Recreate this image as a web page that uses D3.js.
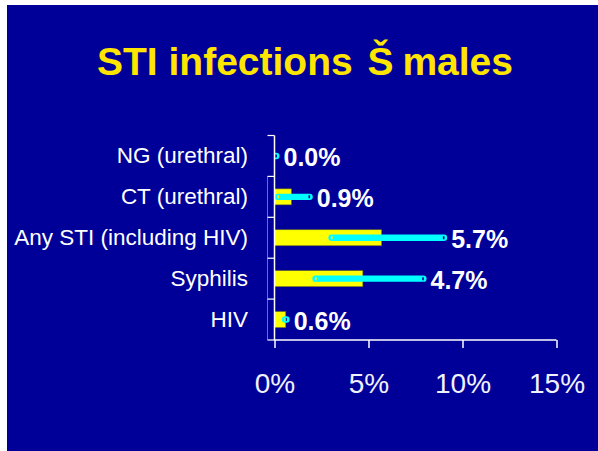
<!DOCTYPE html>
<html>
<head>
<meta charset="utf-8">
<script src="https://cdn.jsdelivr.net/npm/d3@7"></script>
<style>
  html, body { margin: 0; padding: 0; background: #ffffff; }
  svg { display: block; }
  text { font-family: "Liberation Sans", Arial, Helvetica, sans-serif; }
</style>
</head>
<body>
<svg id="chart" width="598" height="451"></svg>
<script>
// Prevalence of STIs among males (%), with confidence intervals
const categories = ["NG (urethral)", "CT (urethral)", "Any STI (including HIV)", "Syphilis", "HIV"];
const prevalence = [0.0, 0.9, 5.7, 4.7, 0.6];
const ciLow  = [0.0, 0.2, 3.05, 2.2, 0.58];
const ciHigh = [0.08, 1.85, 9.0, 7.9, 0.62];
const valueLabels = ["0.0%", "0.9%", "5.7%", "4.7%", "0.6%"];
const xTicks = [0, 5, 10, 15];
const xTickLabels = ["0%", "5%", "10%", "15%"];

const svg = d3.select("#chart");

// slide background
svg.append("rect")
  .attr("x", 7).attr("y", 5)
  .attr("width", 591).attr("height", 446)
  .attr("fill", "#000099");

// title
const title = svg.append("text")
  .attr("x", 97).attr("y", 75)
  .attr("fill", "#FFE500")
  .attr("font-size", 39)
  .attr("font-weight", "bold");
title.append("tspan").text("STI infections ");
title.append("tspan").attr("dx", 4).text("Š");
title.append("tspan").attr("dx", -2).text(" males");

const x = d3.scaleLinear().domain([0, 15]).range([274.5, 556.5]);
const y = d3.scaleBand().domain(categories).range([135.5, 340]).padding(0);
const barH = 16;

const rows = categories.map((c, i) => ({
  cat: c, v: prevalence[i], lo: ciLow[i], hi: ciHigh[i], label: valueLabels[i]
}));

// faint inner frame line
svg.append("line")
  .attr("x1", 267.5).attr("x2", 267.5)
  .attr("y1", y(categories[1])).attr("y2", 340)
  .attr("stroke", "#9a9ad6").attr("stroke-width", 1).attr("opacity", 0.7);

// bars
svg.append("g").selectAll("rect")
  .data(rows).join("rect")
  .attr("x", x(0))
  .attr("y", d => y(d.cat) + y.bandwidth() / 2 - barH / 2)
  .attr("width", d => x(d.v) - x(0))
  .attr("height", barH)
  .attr("fill", "#FFFF00")
  .attr("stroke", "#6b6b20")
  .attr("stroke-width", 0.6);

// error bars: thick cyan band with small open caps at the interval ends
svg.append("defs").append("clipPath").attr("id", "plotClip")
  .append("rect").attr("x", x(0)).attr("y", 130).attr("width", 330).attr("height", 215);

const r = 3.2;
function errPath(d) {
  const c = y(d.cat) + y.bandwidth() / 2;
  const x0 = x(d.lo) - 3.5, x1 = x(d.hi) + 3.5;
  let p = `M${x0 + r},${c - r} H${x1 - r} A${r},${r} 0 0 1 ${x1 - r},${c + r} H${x0 + r} A${r},${r} 0 0 1 ${x0 + r},${c - r} Z`;
  [x(d.lo), x(d.hi)].forEach(hx => {
    p += ` M${hx - 0.8},${c - 1.5} h1.6 v3 h-1.6 Z`;
  });
  return p;
}
svg.append("g").attr("clip-path", "url(#plotClip)")
  .selectAll("path")
  .data(rows).join("path")
  .attr("d", errPath)
  .attr("fill", "#00FFFF")
  .attr("fill-rule", "evenodd");

// value labels
svg.append("g").selectAll("text")
  .data(rows).join("text")
  .attr("x", d => Math.max(x(d.hi) + 3.5, x(0)) + 4)
  .attr("y", d => y(d.cat) + y.bandwidth() / 2 + 10.5)
  .attr("fill", "#ffffff")
  .attr("font-size", 25)
  .attr("font-weight", "bold")
  .text(d => d.label);

// category axis
const yAxis = svg.append("g").attr("transform", `translate(${x(0)},0)`);
yAxis.append("line")
  .attr("x1", 0).attr("x2", 0)
  .attr("y1", 135.5).attr("y2", 340)
  .attr("stroke", "#ffffff").attr("stroke-width", 1.5);
const boundaries = categories.map(c => y(c)).concat([340]);
yAxis.selectAll("line.tick")
  .data(boundaries).join("line")
  .attr("class", "tick")
  .attr("x1", -7).attr("x2", 0)
  .attr("y1", d => d).attr("y2", d => d)
  .attr("stroke", "#ffffff").attr("stroke-width", 1.2);
svg.append("g").selectAll("text")
  .data(categories).join("text")
  .attr("x", 248)
  .attr("y", d => y(d) + y.bandwidth() / 2 + 7.5)
  .attr("text-anchor", "end")
  .attr("fill", "#ffffff")
  .attr("font-size", 22.5)
  .text(d => d);

// value axis
const xAxis = d3.axisBottom(x)
  .tickValues(xTicks)
  .tickSize(8)
  .tickPadding(25)
  .tickFormat((d, i) => xTickLabels[i]);
const xg = svg.append("g")
  .attr("transform", "translate(0,340)")
  .call(xAxis);
xg.select(".domain")
  .attr("d", `M${x(0)},0H${x(15)}`)
  .attr("stroke", "#ffffff").attr("stroke-width", 1.5);
xg.selectAll(".tick line").attr("stroke", "#ffffff").attr("stroke-width", 1.5);
xg.selectAll(".tick text")
  .attr("fill", "#f2f2ff")
  .attr("font-size", 28)
  .attr("font-family", "'Liberation Sans', Arial, sans-serif");
</script>
</body>
</html>
